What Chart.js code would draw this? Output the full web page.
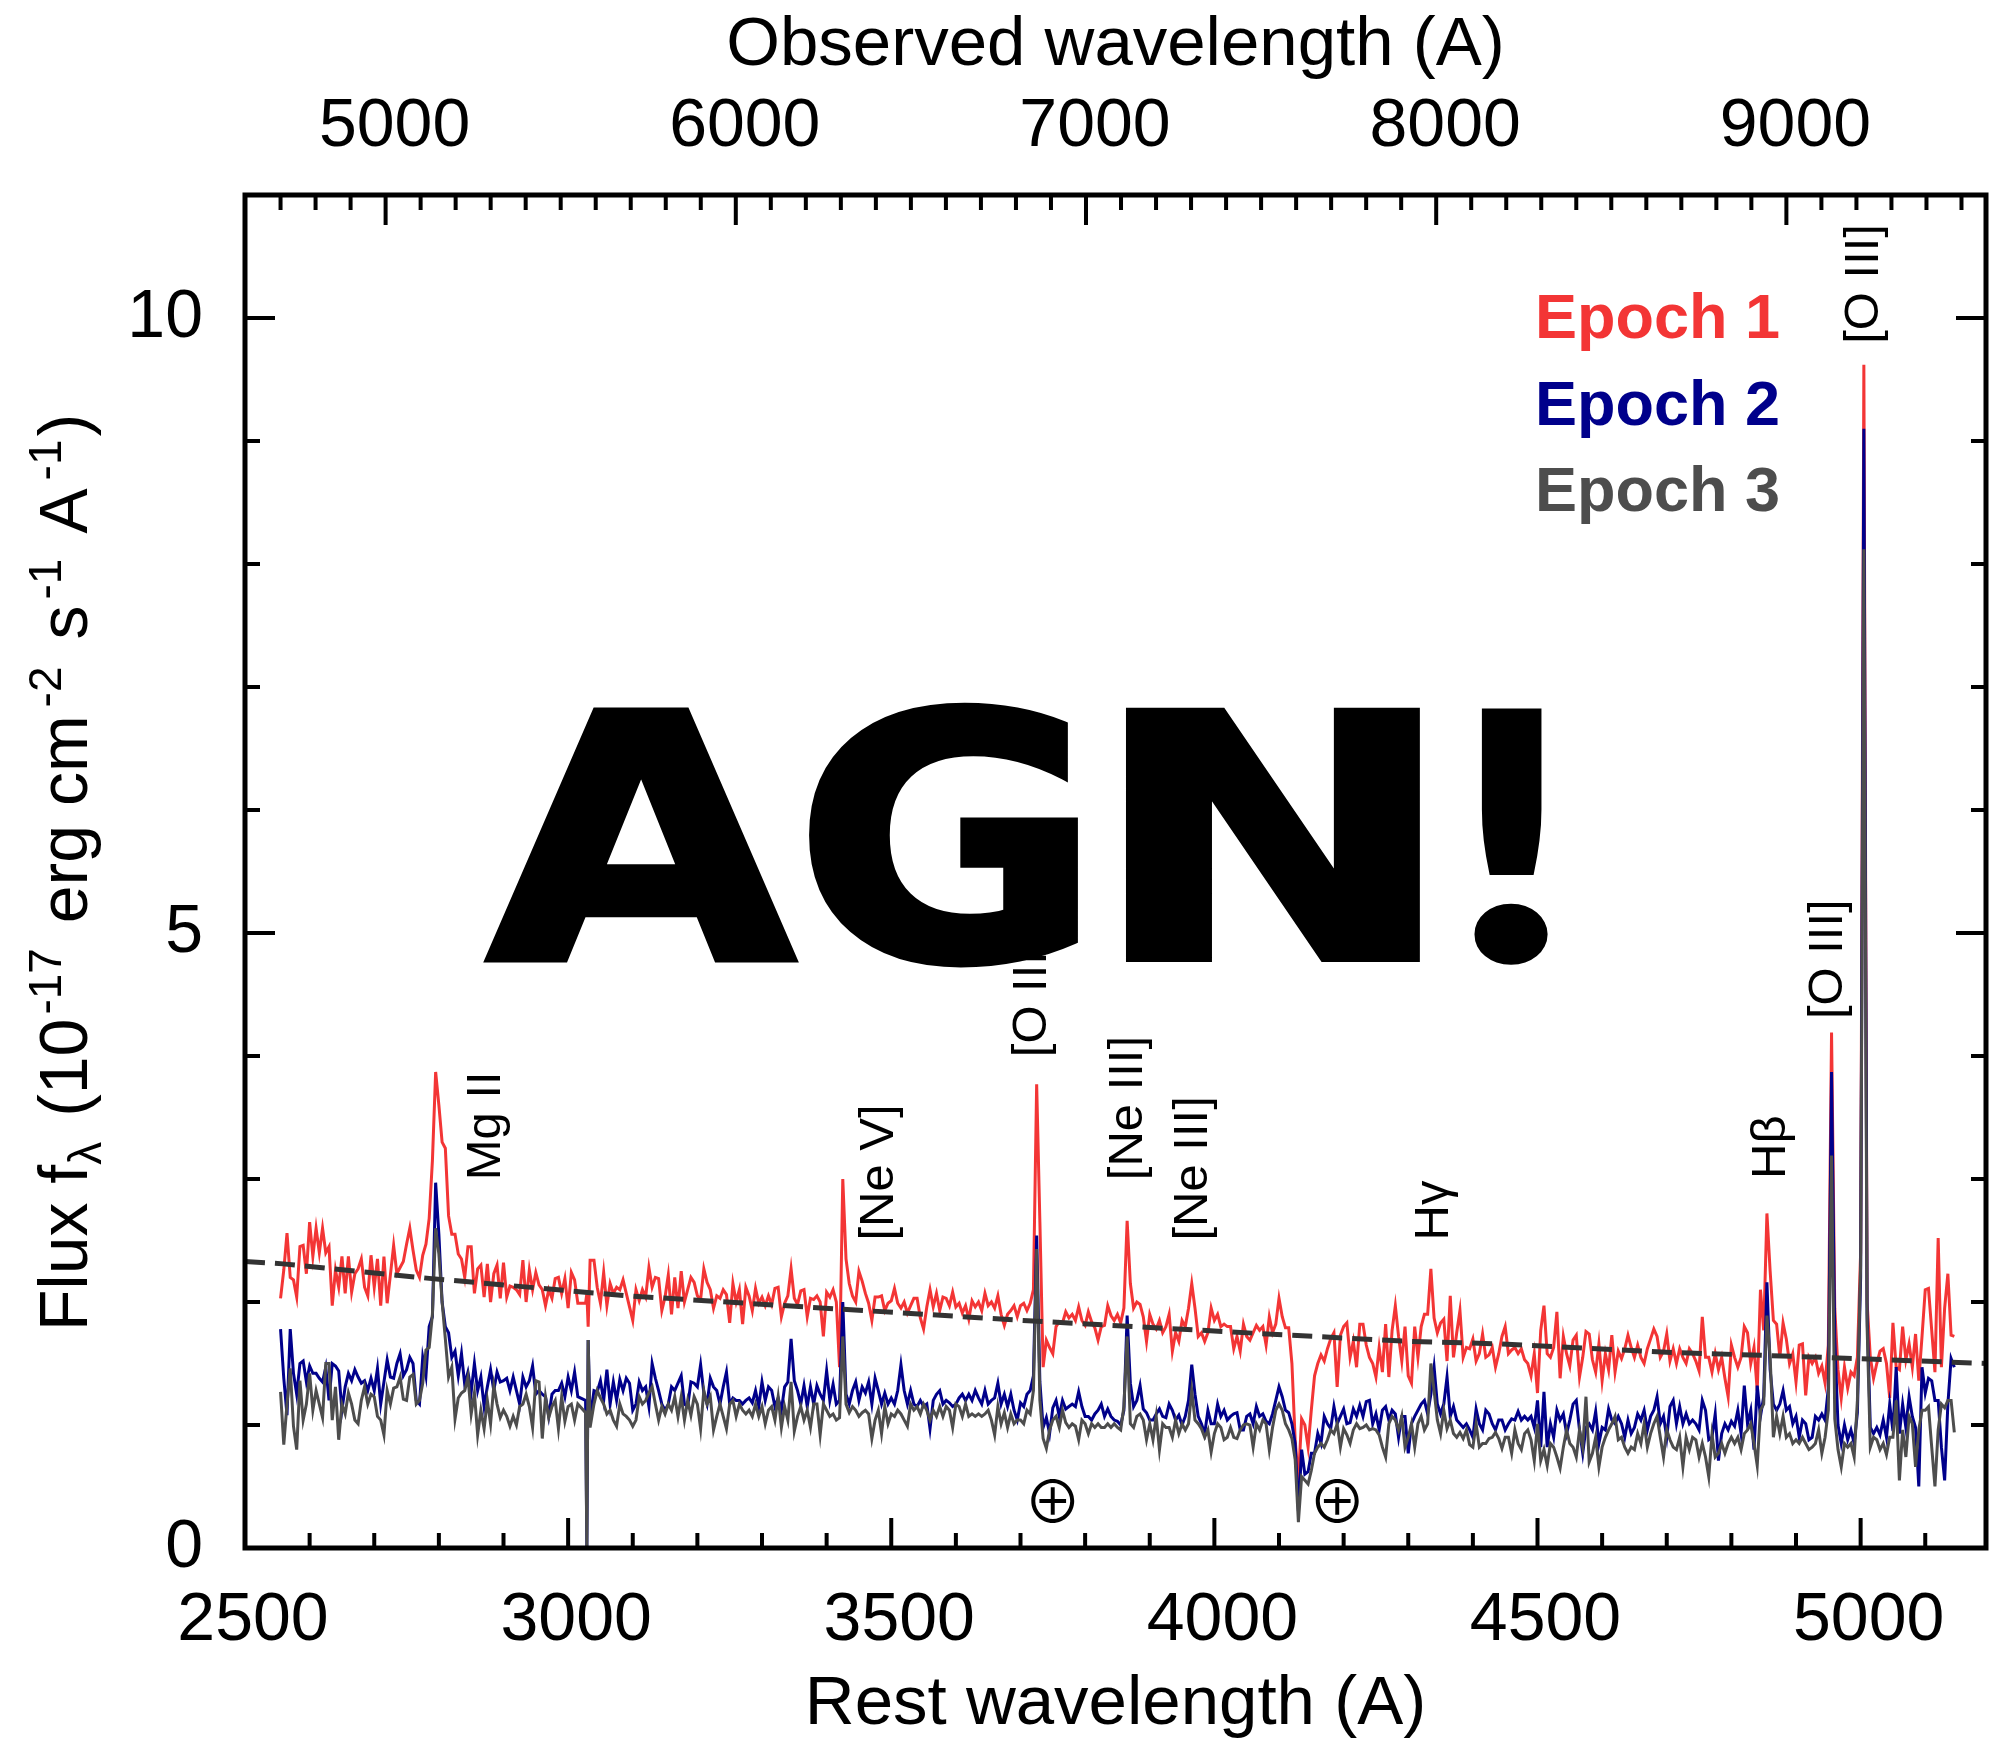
<!DOCTYPE html>
<html>
<head>
<meta charset="utf-8">
<style>html,body{margin:0;padding:0;background:#fff}canvas{display:block}</style>
<script src="https://cdn.jsdelivr.net/npm/chart.js@4"></script>
</head>
<body>
<canvas id="c" width="1995" height="1751"></canvas>
<script>
const wavelengths = [
2555,2560,2565,2570,2575,2580,2585,2590,2595,2600,2605,2610,2615,2620,2625,2630,2635,2640,2645,2650,
2655,2660,2665,2670,2675,2680,2685,2690,2695,2700,2705,2710,2715,2720,2725,2730,2735,2740,2745,2750,
2755,2760,2765,2770,2775,2780,2785,2790,2795,2800,2805,2810,2815,2820,2825,2830,2835,2840,2845,2850,
2855,2860,2865,2870,2875,2880,2885,2890,2895,2900,2905,2910,2915,2920,2925,2930,2935,2940,2945,2950,
2955,2960,2965,2970,2975,2980,2985,2990,2995,3000,3005,3010,3015,3027,3029,3031,3034,3040,3045,3050,
3055,3060,3065,3070,3075,3080,3085,3090,3095,3100,3105,3110,3115,3120,3125,3130,3135,3140,3145,3150,
3155,3160,3165,3170,3175,3180,3185,3190,3195,3200,3205,3210,3215,3220,3225,3230,3235,3240,3245,3250,
3255,3260,3265,3270,3275,3280,3285,3290,3295,3300,3305,3310,3315,3320,3325,3330,3335,3340,3345,3350,
3355,3360,3365,3370,3375,3380,3385,3390,3395,3400,3405,3410,3415,3420,3425,3430,3435,3440,3445,3450,
3455,3460,3465,3470,3475,3480,3485,3490,3495,3500,3505,3510,3515,3520,3525,3530,3535,3540,3545,3550,
3555,3560,3565,3570,3575,3580,3585,3590,3595,3600,3605,3610,3615,3620,3625,3630,3635,3640,3645,3650,
3655,3660,3665,3670,3675,3680,3685,3690,3695,3700,3705,3710,3715,3720,3725,3730,3735,3740,3745,3750,
3755,3760,3765,3770,3775,3780,3785,3790,3795,3800,3805,3810,3815,3820,3825,3830,3835,3840,3845,3850,
3855,3860,3865,3870,3875,3880,3885,3890,3895,3900,3905,3910,3915,3920,3925,3930,3935,3940,3945,3950,
3955,3960,3965,3970,3975,3980,3985,3990,3995,4000,4005,4010,4015,4020,4025,4030,4035,4040,4045,4050,
4055,4060,4065,4070,4075,4080,4085,4090,4095,4100,4105,4110,4115,4120,4125,4130,4135,4140,4145,4150,
4155,4160,4165,4170,4175,4180,4185,4190,4195,4200,4205,4210,4215,4220,4225,4230,4235,4240,4245,4250,
4255,4260,4265,4270,4275,4280,4285,4290,4295,4300,4305,4310,4315,4320,4325,4330,4335,4340,4345,4350,
4355,4360,4365,4370,4375,4380,4385,4390,4395,4400,4405,4410,4415,4420,4425,4430,4435,4440,4445,4450,
4455,4460,4465,4470,4475,4480,4485,4490,4495,4500,4505,4510,4515,4520,4525,4530,4535,4540,4545,4550,
4555,4560,4565,4570,4575,4580,4585,4590,4595,4600,4605,4610,4615,4620,4625,4630,4635,4640,4645,4650,
4655,4660,4665,4670,4675,4680,4685,4690,4695,4700,4705,4710,4715,4720,4725,4730,4735,4740,4745,4750,
4755,4760,4765,4770,4775,4780,4785,4790,4795,4800,4805,4810,4815,4820,4825,4830,4835,4840,4845,4850,
4855,4860,4865,4870,4875,4880,4885,4890,4895,4900,4905,4910,4915,4920,4925,4930,4935,4940,4945,4950,
4955,4960,4965,4970,4975,4980,4985,4990,4995,5000,5005,5010,5015,5020,5025,5030,5035,5040,5045,5050,
5055,5060,5065,5070,5075,5080,5085,5090,5095,5100,5105,5110,5115,5120,5125,5130,5135,5140,5145
];
const epoch1 = [
2.03,2.26,2.56,2.2,2.18,2.04,2.45,2.46,2.23,2.65,2.37,2.6,2.4,2.6,2.4,2.45,1.97,2.26,2.12,2.37,
2.07,2.37,2.08,2.23,2.27,2.35,2.12,2.05,2.38,2.12,2.35,1.97,2.37,1.99,2.22,2.46,2.23,2.28,2.33,2.47,
2.6,2.42,2.26,2.2,2.38,2.47,2.68,3.15,3.87,3.6,3.3,3.25,2.7,2.55,2.55,2.39,2.35,2.2,2.45,2.45,
2.07,2.27,2.3,2.04,2.31,2.0,2.23,2.3,2.03,2.32,2.04,2.13,2.12,2.1,2.06,2.34,2.0,2.26,2.1,2.24,
2.14,2.1,1.97,2.1,2.03,2.19,2.2,2.07,2.19,1.95,2.24,2.18,1.99,1.99,2.07,1.8,2.34,2.34,2.12,1.99,
2.24,1.97,2.15,2.07,2.12,2.1,2.18,2.07,1.96,1.85,2.1,2.01,2.1,2.04,2.28,2.12,2.2,2.19,1.93,2.04,
2.22,1.9,2.2,1.95,2.25,2.0,2.1,2.2,2.16,2.05,2.02,2.27,2.16,2.1,1.95,2.05,2.03,2.1,2.06,1.83,
2.15,2.0,2.1,1.82,2.12,2.05,1.93,2.11,1.99,2.04,1.97,2.05,1.98,2.11,2.12,1.88,1.99,2.05,2.27,2.03,
1.98,2.09,2.1,1.88,2.03,2.02,2.05,2.0,1.72,2.08,2.04,2.1,2.0,1.47,3.0,2.35,2.15,2.05,2.0,2.25,
2.17,2.07,1.99,1.85,2.04,2.04,2.05,1.93,1.99,2.01,2.11,1.99,1.95,2.0,1.91,1.97,2.03,2.03,1.87,1.78,
1.96,2.1,1.96,2.07,1.93,2.04,2.03,1.97,2.08,1.96,1.99,1.91,1.97,1.86,2.01,1.96,2.0,1.93,2.07,1.97,
2.0,1.95,2.05,1.9,1.81,1.9,1.93,1.97,1.88,1.97,1.99,1.93,1.99,2.1,3.77,2.65,1.47,1.69,1.63,1.58,
1.8,1.84,1.83,1.92,1.87,1.9,1.85,1.96,1.85,1.81,1.92,1.84,1.79,1.69,1.8,1.81,1.97,1.89,1.85,1.9,
1.83,1.95,2.66,2.15,1.95,2.0,1.98,1.88,1.68,1.9,1.82,1.78,1.85,1.75,1.8,1.9,1.6,1.75,1.68,1.85,
1.8,1.95,2.15,1.95,1.72,1.75,1.68,1.75,1.95,1.85,1.9,1.8,1.82,1.8,1.8,1.62,1.72,1.6,1.82,1.72,
1.69,1.75,1.81,1.77,1.8,1.65,1.88,1.75,1.82,2.03,1.88,1.79,1.79,1.5,0.88,0.55,1.05,1.0,0.82,1.12,
1.4,1.5,1.57,1.52,1.62,1.7,1.75,1.31,1.73,1.8,1.83,1.55,1.68,1.47,1.82,1.82,1.65,1.55,1.5,1.39,
1.63,1.43,1.82,1.39,1.77,1.97,1.72,1.52,1.8,1.4,1.34,1.8,1.55,1.8,1.9,1.9,2.27,1.87,1.75,1.83,
1.86,1.52,2.05,1.55,1.75,1.93,1.55,1.63,1.62,1.7,1.52,1.58,1.74,1.55,1.57,1.63,1.47,1.58,1.72,1.8,
1.58,1.61,1.63,1.58,1.62,1.53,1.5,1.4,1.58,1.26,1.77,1.97,1.58,1.55,1.63,1.92,1.38,1.72,1.58,1.48,
1.69,1.73,1.39,1.55,1.76,1.74,1.53,1.43,1.66,1.36,1.58,1.45,1.73,1.43,1.6,1.54,1.62,1.73,1.63,1.55,
1.65,1.55,1.5,1.62,1.7,1.78,1.72,1.55,1.6,1.74,1.52,1.62,1.5,1.62,1.55,1.5,1.62,1.58,1.52,1.44,
1.88,1.55,1.55,1.43,1.58,1.45,1.55,1.38,1.23,1.65,1.55,1.47,1.55,1.8,1.75,1.5,1.63,1.28,2.1,1.77,
2.72,2.25,1.85,1.82,1.55,1.83,1.7,1.5,1.58,1.35,1.65,1.66,1.24,1.55,1.5,1.55,1.42,1.48,1.34,1.65,
4.19,1.95,1.45,1.22,1.47,1.3,1.43,1.4,1.55,2.4,9.62,2.0,1.55,1.38,1.5,1.6,1.62,1.5,1.22,1.83,
1.47,1.45,1.8,1.53,1.66,1.47,1.74,1.36,1.72,2.1,2.11,1.77,1.43,2.52,1.47,1.95,2.23,1.73,1.72
];
const epoch2 = [
1.78,1.38,1.08,1.78,1.42,1.25,1.5,1.52,1.35,1.48,1.42,1.42,1.38,1.35,1.47,1.2,1.5,1.48,1.44,1.12,
1.31,1.42,1.36,1.45,1.39,1.34,1.36,1.28,1.38,1.28,1.46,1.17,1.35,1.53,1.39,1.38,1.5,1.58,1.4,1.45,
1.55,1.5,1.2,1.17,1.55,1.4,1.8,1.88,2.97,2.55,2.0,1.8,1.75,1.55,1.6,1.4,1.58,1.33,1.43,1.27,
1.5,1.28,1.39,1.15,1.31,1.45,1.28,1.43,1.35,1.36,1.38,1.28,1.39,1.28,1.17,1.39,1.31,1.36,1.48,1.25,
1.28,1.25,1.23,1.07,1.25,1.28,1.28,1.34,1.23,1.39,1.28,1.43,1.23,1.2,0,1.69,1.04,1.28,1.27,1.36,
1.2,1.45,1.17,1.35,1.2,1.37,1.28,1.38,1.34,1.12,1.17,1.35,1.28,1.31,1.15,1.5,1.38,1.28,1.17,1.12,
1.17,1.31,1.28,1.34,1.4,1.17,1.15,1.35,1.34,1.31,1.49,1.26,1.17,1.38,1.31,1.28,1.17,1.31,1.43,1.17,
1.22,1.2,1.2,1.17,1.2,1.22,1.18,1.28,1.15,1.35,1.2,1.31,1.28,1.15,1.22,1.12,1.31,1.35,1.7,1.36,
1.28,1.17,1.32,1.15,1.31,1.17,1.32,1.25,1.2,1.44,1.2,1.33,1.17,1.2,2.0,1.25,1.17,1.28,1.35,1.2,
1.31,1.26,1.35,1.17,1.38,1.28,1.17,1.26,1.17,1.22,1.17,1.28,1.49,1.28,1.17,1.28,1.17,1.15,1.2,1.15,
1.17,0.97,1.2,1.25,1.28,1.17,1.2,1.18,1.15,1.17,1.22,1.25,1.2,1.25,1.2,1.28,1.22,1.17,1.28,1.17,
1.2,1.22,1.34,1.17,1.25,1.15,1.25,1.12,1.04,1.18,1.15,1.25,1.28,1.4,2.54,1.35,0.98,1.06,0.93,1.14,
1.2,1.07,1.2,1.13,1.15,1.17,1.15,1.27,1.15,1.07,1.07,1.04,1.09,1.12,1.17,1.07,1.13,1.07,1.04,1.03,
1.0,1.12,1.89,1.34,1.15,1.2,1.32,1.13,1.1,1.04,1.04,1.09,1.13,1.07,1.06,1.17,1.12,1.04,1.08,1.0,
1.07,1.2,1.49,1.25,1.07,1.01,0.93,1.12,1.01,1.01,1.17,1.07,1.12,1.04,1.07,1.09,1.1,0.96,0.96,1.07,
1.09,1.01,1.15,1.07,1.09,1.03,1.01,1.09,1.2,1.31,1.23,1.12,1.1,1.01,0.85,0.3,0.8,0.6,0.62,0.77,
0.77,0.93,0.85,1.07,1.01,0.97,1.15,1.01,1.07,1.13,1.01,1.02,1.13,1.07,1.16,1.07,1.19,1.2,1.01,1.09,
0.96,1.12,1.15,1.04,1.12,1.09,0.9,1.07,1.07,0.77,1.01,1.07,1.12,1.17,1.2,1.09,1.25,1.47,1.17,1.09,
1.17,1.39,1.07,1.15,1.04,1.01,0.98,1.01,0.96,0.9,1.13,1.01,0.96,1.12,1.09,1.01,0.96,1.04,1.04,0.96,
1.01,1.05,1.04,1.11,1.04,1.07,1.04,1.07,0.98,1.2,0.82,1.27,0.82,1.01,0.9,1.12,1.04,1.09,0.93,1.04,
1.17,1.2,0.96,0.77,0.98,1.01,0.96,1.11,0.85,0.98,0.96,1.13,1.04,1.01,1.07,1.01,0.9,1.04,0.93,0.98,
1.09,1.04,1.12,0.96,1.07,1.12,1.23,1.01,1.07,0.9,1.15,1.2,1.01,1.15,1.01,1.09,1.01,1.04,1.01,0.96,
1.2,1.12,0.88,0.9,1.09,0.71,0.93,1.01,0.96,1.03,0.99,1.12,0.93,1.32,1.01,1.12,0.8,1.32,1.07,1.23,
2.16,1.45,1.17,1.12,1.17,1.28,1.12,1.15,1.01,1.07,0.9,1.04,1.01,0.88,0.9,1.07,1.04,1.09,1.04,1.3,
3.87,1.7,1.0,0.85,1.0,0.88,0.96,0.85,1.1,2.2,9.1,1.9,0.98,0.93,0.98,0.92,1.04,0.9,1.17,0.95,
1.47,0.93,1.17,0.98,1.23,1.07,0.98,0.5,1.47,1.26,1.38,1.36,1.2,1.2,0.82,0.55,1.17,1.54,1.47
];
const epoch3 = [
1.27,0.84,1.17,1.46,0.99,0.8,1.36,1.04,1.17,1.42,1.12,1.28,1.17,1.06,1.5,1.5,1.04,1.31,0.88,1.17,
1.09,1.26,1.17,1.04,1.01,1.2,1.31,1.17,1.25,1.23,1.07,1.04,0.92,1.28,1.17,1.3,1.31,1.39,1.21,1.2,
1.39,1.41,1.17,1.2,1.34,1.61,1.63,1.9,2.6,2.39,2.0,1.7,1.39,1.47,1.05,1.22,1.26,1.28,1.39,1.09,
1.26,0.92,1.12,0.97,1.2,1.01,1.32,1.17,1.06,1.12,1.07,0.99,1.07,1.0,1.15,1.17,1.25,1.15,0.98,1.36,
1.35,0.89,1.23,1.06,1.15,1.2,0.97,1.23,1.03,1.15,1.17,1.04,1.17,1.1,0,1.69,0.98,1.17,1.28,1.22,
1.17,1.09,1.12,1.04,0.99,1.17,1.09,1.07,1.04,0.99,1.04,1.23,1.17,1.2,1.26,1.31,1.17,1.04,1.15,1.09,
1.17,1.12,1.23,1.07,1.23,1.04,1.2,1.08,1.23,1.17,0.97,1.28,1.17,1.23,0.96,1.07,1.17,1.07,0.97,1.17,
1.2,1.07,1.17,1.12,1.09,1.12,1.07,1.17,1.07,1.15,1.01,1.12,1.15,1.04,1.23,0.98,1.15,1.04,1.35,0.95,
1.07,1.15,1.04,1.12,0.98,1.17,1.17,0.92,1.17,1.12,1.07,1.09,1.04,1.06,1.72,1.17,1.1,1.15,1.12,1.07,
1.1,1.12,1.09,0.89,1.04,1.12,0.93,1.15,1.01,1.09,1.07,1.12,1.09,1.04,0.99,1.17,1.12,1.15,1.09,1.17,
1.12,1.04,1.12,1.07,1.15,1.07,1.15,1.12,0.98,1.17,1.15,1.07,1.17,1.07,1.09,1.07,1.09,1.07,1.09,1.12,
1.04,0.92,1.15,1.01,1.1,0.98,1.09,1.01,1.04,1.04,1.01,1.12,1.09,1.28,2.43,1.2,0.89,0.81,0.96,1.04,
1.07,0.98,1.12,1.02,0.98,1.01,0.99,0.88,1.04,1.01,0.93,1.01,0.98,1.01,0.98,0.98,1.01,0.98,1.01,0.98,
0.96,1.15,1.72,1.01,0.98,1.07,1.09,1.04,0.88,1.01,0.88,1.07,0.8,1.01,0.98,0.98,0.9,1.04,0.93,1.01,
0.96,1.01,1.28,1.04,1.01,0.97,0.9,0.96,0.78,0.93,1.01,0.98,0.88,0.9,0.98,0.9,0.89,0.96,1.0,1.01,
1.0,0.82,1.01,0.96,1.04,1.01,0.8,0.98,1.12,1.17,1.12,1.01,0.96,0.89,0.72,0.21,0.58,0.55,0.52,0.63,
0.77,0.82,0.85,0.82,0.88,0.96,0.93,1.01,0.82,0.97,0.92,0.85,0.96,1.01,0.97,0.98,1.0,0.96,0.97,0.96,
0.92,0.82,0.74,1.01,1.07,1.04,0.96,1.07,0.82,0.9,1.01,0.82,1.01,1.07,0.96,1.01,1.5,1.28,1.04,0.93,
1.12,0.97,1.04,0.93,0.9,0.94,0.89,0.96,0.84,0.82,1.01,0.82,0.85,0.85,0.89,0.9,0.94,0.89,0.81,0.9,
0.9,0.77,0.96,0.85,0.8,0.93,0.96,0.88,0.71,1.01,0.71,0.8,0.67,0.85,0.82,0.74,0.65,0.82,0.96,0.85,
0.82,0.74,0.96,0.82,1.23,0.7,0.77,0.9,0.66,0.82,0.9,0.96,1.01,1.07,0.88,0.9,0.82,0.77,0.82,0.8,
0.93,0.85,1.01,0.82,0.93,1.01,1.07,0.9,0.74,0.96,0.88,0.82,0.8,0.9,0.66,0.9,0.8,0.9,0.88,0.74,
0.85,0.74,0.58,0.92,0.74,0.77,0.85,0.77,0.85,0.9,0.85,0.9,0.8,0.93,0.96,1.01,0.85,0.67,1.12,1.17,
1.89,1.55,0.9,1.07,0.93,1.07,0.9,0.93,0.85,0.88,0.85,0.9,0.85,0.8,0.82,0.85,0.96,0.77,0.9,1.12,
3.19,1.05,0.8,0.66,0.85,0.82,0.85,0.74,1.2,2.3,8.12,1.8,0.82,0.9,0.88,0.8,0.85,0.76,0.9,0.9,
1.2,0.55,0.96,0.74,1.07,1.01,0.66,0.96,1.12,1.12,1.15,0.82,0.5,0.96,1.17,1.14,1.2,1.2,0.94
];
const continuumWave = [2500,2559,2789,3091,3704,4117,4302,4438,4709,4941,5194];
const continuumFlux = [2.33,2.31,2.19,2.05,1.85,1.73,1.68,1.66,1.59,1.55,1.5];

const seriesNames = ['Epoch 1','Epoch 2','Epoch 3'];
const seriesColors = ['#f33535','#00008b','#4d4d4d'];
const restMajorTicks = [2500,3000,3500,4000,4500,5000];
const restMinorTicks = [2600,2700,2800,2900,3100,3200,3300,3400,3600,3700,3800,3900,4100,4200,4300,4400,4600,4700,4800,4900,5100];
const obsMajorTicks = [5000,6000,7000,8000,9000];
const obsMinorTicks = [4700,4800,4900,5100,5200,5300,5400,5500,5600,5700,5800,5900,6100,6200,6300,6400,6500,6600,6700,6800,6900,7100,7200,7300,7400,7500,7600,7700,7800,7900,8100,8200,8300,8400,8500,8600,8700,8800,8900,9100,9200,9300,9400,9500];
const fluxMajorTicks = [0,5,10];
const fluxMinorTicks = [1,2,3,4,6,7,8,9];

const lineLabelText = ['Mg II','[Ne V]','[O III]','[Ne III]','[Ne III]','Hγ','Hβ','[O III]','[O III]'];
const lineLabelWave = [2895,3502,3740,3888,3988,4361,4883,4971,5027];
const lineLabelFlux = [2.99,2.50,3.99,2.99,2.50,2.50,3.00,4.30,9.79];
const earthWave = [3750,4190];
const earthFlux = [0.38,0.38];

const overlayLetters = ['A','G','N','!'];
const overlayFonts = ['bold 352px "DejaVu Sans"','bold 352px "DejaVu Sans"','bold 352px "DejaVu Sans"','900 352px Lato, "DejaVu Sans"'];
const overlayLeft = [487,812,1124,1473];
const overlayRight = [798,1075,1418,1548];

const FONT = '"Liberation Sans", Arial, sans-serif';
Chart.defaults.font.family = FONT;
Chart.defaults.color = '#000';

const toPoints = (xs, ys) => xs.map((x, i) => ({x, y: ys[i]}));
const fixTicks = list => scale => { scale.ticks = list.map(v => ({value: v})); };
const tickFont = {size: 68, family: FONT};
const titleFont = {size: 69, family: FONT};

const decorations = {
  id: 'decorations',
  afterDraw(chart) {
    const {ctx, chartArea: a, scales} = chart;
    const {x, x2, y} = scales;
    ctx.save();
    ctx.strokeStyle = '#000';
    ctx.lineWidth = 4;
    ctx.beginPath();
    const bottomTick = (v, len) => { const p = x.getPixelForValue(v); ctx.moveTo(p, a.bottom); ctx.lineTo(p, a.bottom - len); };
    const topTick = (v, len) => { const p = x2.getPixelForValue(v); ctx.moveTo(p, a.top); ctx.lineTo(p, a.top + len); };
    const sideTick = (v, len) => { const p = y.getPixelForValue(v);
      ctx.moveTo(a.left, p); ctx.lineTo(a.left + len, p);
      ctx.moveTo(a.right, p); ctx.lineTo(a.right - len, p); };
    restMajorTicks.forEach(v => bottomTick(v, 30));
    restMinorTicks.forEach(v => bottomTick(v, 15));
    obsMajorTicks.forEach(v => topTick(v, 30));
    obsMinorTicks.forEach(v => topTick(v, 15));
    fluxMajorTicks.forEach(v => sideTick(v, 30));
    fluxMinorTicks.forEach(v => sideTick(v, 15));
    ctx.stroke();
    ctx.lineWidth = 5;
    ctx.strokeRect(a.left, a.top, a.right - a.left, a.bottom - a.top);

    // emission line labels
    ctx.fillStyle = '#000';
    ctx.textAlign = 'left';
    ctx.textBaseline = 'alphabetic';
    ctx.font = '49px ' + FONT;
    lineLabelText.forEach((t, i) => {
      ctx.save();
      ctx.translate(x.getPixelForValue(lineLabelWave[i]), y.getPixelForValue(lineLabelFlux[i]));
      ctx.rotate(-Math.PI / 2);
      ctx.fillText(t, 0, 0);
      ctx.restore();
    });

    // telluric markers
    ctx.font = '58px "Noto Sans CJK SC"';
    ctx.textAlign = 'center';
    ctx.textBaseline = 'middle';
    earthWave.forEach((w, i) => ctx.fillText('\u2295', x.getPixelForValue(w), y.getPixelForValue(earthFlux[i])));

    // legend
    ctx.font = 'bold 63px ' + FONT;
    ctx.textAlign = 'left';
    ctx.textBaseline = 'alphabetic';
    seriesNames.forEach((t, i) => {
      ctx.fillStyle = seriesColors[i];
      ctx.fillText(t, 1535, 338 + i * 86.5);
    });

    // left axis title
    ctx.fillStyle = '#000';
    ctx.save();
    ctx.translate(87, 1331);
    ctx.rotate(-Math.PI / 2);
    const runs = [['Flux f',68,0,0],['\u03bb',46,14,6],[' (10',68,0,4],['-17',46,-26,6],[' erg cm',68,0,8],['-2',46,-26,8],[' s',68,0,6],['-1',46,-26,6],[' A',68,0,8],['-1',46,-26,3],[')',68,0,0]];
    let pos = 0;
    runs.forEach(([t, size, dy, gap]) => {
      ctx.font = size + 'px ' + FONT;
      ctx.fillText(t, pos, dy);
      pos += ctx.measureText(t).width + gap;
    });
    ctx.restore();

    // overlay word, each letter fitted to its box and thickened
    ctx.textAlign = 'left';
    ctx.fillStyle = '#000';
    ctx.strokeStyle = '#000';
    ctx.lineJoin = 'miter';
    ctx.lineWidth = 8;
    overlayLetters.forEach((t, i) => {
      ctx.font = overlayFonts[i];
      const capHeight = ctx.measureText('A').actualBoundingBoxAscent;
      const m = ctx.measureText(t);
      const inkLeft = -m.actualBoundingBoxLeft, inkRight = m.actualBoundingBoxRight;
      const sx = (overlayRight[i] - overlayLeft[i]) / (inkRight - inkLeft);
      const sy = 250 / capHeight;
      ctx.save();
      ctx.translate(overlayLeft[i] - inkLeft * sx, 959);
      ctx.scale(sx, sy);
      ctx.fillText(t, 0, 0);
      ctx.lineWidth = 8 / Math.max(sx, sy);
      ctx.strokeText(t, 0, 0);
      ctx.restore();
    });
    ctx.restore();
  }
};

new Chart(document.getElementById('c'), {
  type: 'line',
  data: {
    datasets: [
      {label: 'Continuum', data: toPoints(continuumWave, continuumFlux), borderColor: '#333333', borderWidth: 5, borderDash: [20, 10], order: 0, pointRadius: 0},
      {label: seriesNames[2], data: toPoints(wavelengths, epoch3), borderColor: seriesColors[2], borderWidth: 3, order: 1, pointRadius: 0},
      {label: seriesNames[1], data: toPoints(wavelengths, epoch2), borderColor: seriesColors[1], borderWidth: 3, order: 2, pointRadius: 0},
      {label: seriesNames[0], data: toPoints(wavelengths, epoch1), borderColor: seriesColors[0], borderWidth: 3, order: 3, pointRadius: 0}
    ]
  },
  options: {
    responsive: false,
    animation: false,
    layout: {padding: 0, autoPadding: false},
    plugins: {legend: {display: false}, tooltip: {enabled: false}},
    elements: {line: {tension: 0}},
    scales: {
      x: {
        type: 'linear', position: 'bottom', min: 2500, max: 5194,
        grid: {display: false, drawTicks: false}, border: {display: false},
        afterBuildTicks: fixTicks(restMajorTicks),
        afterFit: s => { s.height = 203; },
        ticks: {font: tickFont, padding: 32, labelOffset: 8, autoSkip: false, maxRotation: 0, color: '#000', callback: v => String(v)},
        title: {display: true, text: 'Rest wavelength (A)', font: titleFont, color: '#000', padding: {top: 0, bottom: 5}}
      },
      x2: {
        type: 'linear', position: 'top', min: 4598.5, max: 9570,
        grid: {display: false, drawTicks: false}, border: {display: false},
        afterBuildTicks: fixTicks(obsMajorTicks),
        afterFit: s => { s.height = 195; },
        ticks: {font: tickFont, padding: 27, labelOffset: 9, autoSkip: false, maxRotation: 0, color: '#000', callback: v => String(v)},
        title: {display: true, text: 'Observed wavelength (A)', font: titleFont, color: '#000', padding: {top: 5, bottom: 0}}
      },
      y: {
        type: 'linear', position: 'left', min: 0, max: 11,
        grid: {display: false, drawTicks: false}, border: {display: false},
        afterBuildTicks: fixTicks(fluxMajorTicks),
        afterFit: s => { s.width = 245; },
        ticks: {font: tickFont, padding: 42, autoSkip: false, color: '#000', callback: v => String(v)}
      },
      y2: {
        type: 'linear', position: 'right', min: 0, max: 11,
        grid: {display: false, drawTicks: false}, border: {display: false},
        afterBuildTicks: fixTicks([]),
        afterFit: s => { s.width = 9; },
        ticks: {display: false}
      }
    }
  },
  plugins: [decorations]
});
</script>
</body>
</html>
